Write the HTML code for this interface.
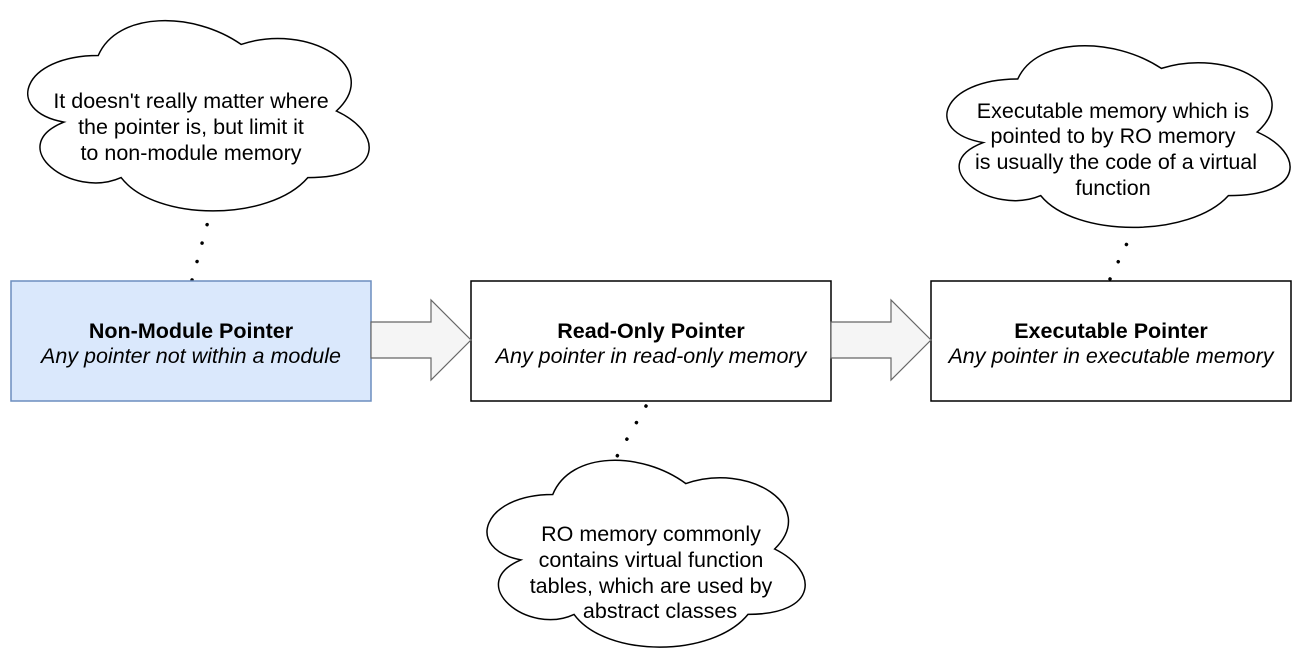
<!DOCTYPE html>
<html><head><meta charset="utf-8"><style>
body{margin:0;background:#fff}
svg text{font-family:"Liberation Sans",Arial,sans-serif;font-size:21.5px;fill:#000}
</style></head><body>
<svg width="1302" height="662" viewBox="0 0 1302 662" xmlns="http://www.w3.org/2000/svg">
<g fill="#fff" stroke="#000" stroke-width="1.5">
<path d="M0.25,0.25 C0.05,0.25 0,0.5 0.16,0.55 C0,0.66 0.18,0.9 0.31,0.8 C0.4,1 0.7,1 0.8,0.8 C1,0.8 1,0.6 0.875,0.5 C1,0.3 0.8,0.1 0.625,0.2 C0.5,0.05 0.3,0.05 0.25,0.25 Z" transform="translate(3,0) scale(381,222)" vector-effect="non-scaling-stroke"/>
<path d="M0.25,0.25 C0.05,0.25 0,0.5 0.16,0.55 C0,0.66 0.18,0.9 0.31,0.8 C0.4,1 0.7,1 0.8,0.8 C1,0.8 1,0.6 0.875,0.5 C1,0.3 0.8,0.1 0.625,0.2 C0.5,0.05 0.3,0.05 0.25,0.25 Z" transform="translate(922,26) scale(383,212)" vector-effect="non-scaling-stroke"/>
<path d="M0.25,0.25 C0.05,0.25 0,0.5 0.16,0.55 C0,0.66 0.18,0.9 0.31,0.8 C0.4,1 0.7,1 0.8,0.8 C1,0.8 1,0.6 0.875,0.5 C1,0.3 0.8,0.1 0.625,0.2 C0.5,0.05 0.3,0.05 0.25,0.25 Z" transform="translate(464,440) scale(355,218)" vector-effect="non-scaling-stroke"/>
</g>
<g stroke="#000" stroke-width="3.5" stroke-linecap="round" stroke-dasharray="0.1 19" fill="none">
<path d="M192,280 L210,214"/>
<path d="M1110,279 L1130,237"/>
<path d="M646,406 L612,465"/>
</g>
<rect x="11" y="281" width="360" height="120" fill="#dae8fc" stroke="#6c8ebf" stroke-width="1.5"/>
<rect x="471" y="281" width="360" height="120" fill="#fff" stroke="#000" stroke-width="1.5"/>
<rect x="931" y="281" width="360" height="120" fill="#fff" stroke="#000" stroke-width="1.5"/>
<g fill="#f5f5f5" stroke="#666" stroke-width="1.2">
<path d="M371,322 L431,322 L431,300 L471,340 L431,380 L431,358 L371,358 Z"/>
<path d="M831,322 L891,322 L891,300 L931,340 L891,380 L891,358 L831,358 Z"/>
</g>
<g text-anchor="middle">
<text x="191" y="338" font-weight="bold">Non-Module Pointer</text>
<text x="191" y="363" font-style="italic">Any pointer not within a module</text>
<text x="651" y="338" font-weight="bold">Read-Only Pointer</text>
<text x="651" y="363" font-style="italic">Any pointer in read-only memory</text>
<text x="1111" y="338" font-weight="bold">Executable Pointer</text>
<text x="1111" y="363" font-style="italic">Any pointer in executable memory</text>
<text x="191" y="108">It doesn't really matter where</text>
<text x="191" y="134">the pointer is, but limit it</text>
<text x="191" y="160">to non-module memory</text>
<text x="1113" y="118">Executable memory which is</text>
<text x="1113" y="143">pointed to by RO memory</text>
<text x="1116" y="169">is usually the code of a virtual</text>
<text x="1113" y="195">function</text>
<text x="651" y="541">RO memory commonly</text>
<text x="651" y="567">contains virtual function</text>
<text x="651" y="593">tables, which are used by</text>
<text x="660" y="618">abstract classes</text>
</g>
</svg>
</body></html>
